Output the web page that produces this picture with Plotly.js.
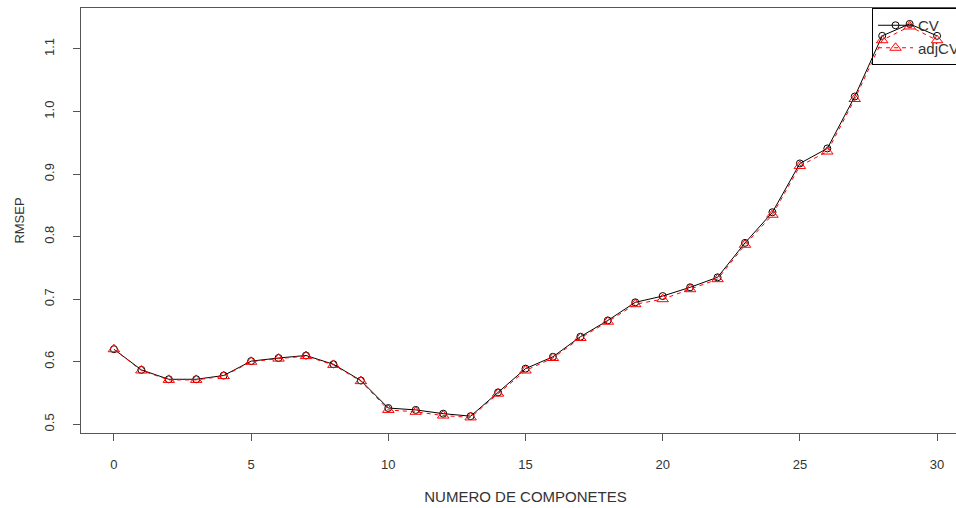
<!DOCTYPE html>
<html>
<head>
<meta charset="utf-8">
<script src="https://cdn.plot.ly/plotly-3.0.1.min.js"></script>
<style>
html,body{margin:0;padding:0;overflow:hidden;background:#fff;width:956px;height:508px;}
#chart{width:980px;height:508px;}
</style>
</head>
<body>
<div id="chart"></div>
<script>
var components = [0,1,2,3,4,5,6,7,8,9,10,11,12,13,14,15,16,17,18,19,20,21,22,23,24,25,26,27,28,29,30];
var cvValues = [0.620,0.587,0.572,0.572,0.578,0.601,0.606,0.610,0.596,0.570,0.526,0.523,0.517,0.513,0.551,0.589,0.608,0.640,0.666,0.695,0.705,0.719,0.735,0.790,0.839,0.917,0.941,1.024,1.121,1.140,1.121];
var adjCvValues = [0.620,0.586,0.571,0.571,0.577,0.600,0.605,0.609,0.595,0.569,0.523,0.520,0.514,0.511,0.549,0.586,0.606,0.638,0.664,0.692,0.700,0.716,0.732,0.787,0.835,0.913,0.936,1.020,1.114,1.136,1.114];
var xTicks = [0,5,10,15,20,25,30];
var yTicks = [0.5,0.6,0.7,0.8,0.9,1.0,1.1];
var yTickLabels = ['0.5','0.6','0.7','0.8','0.9','1.0','1.1'];

var font = 'Liberation Sans, Arial, sans-serif';

var traces = [
  {
    x: components, y: cvValues, name: 'CV', type: 'scatter', mode: 'lines+markers',
    line: {color: '#000000', width: 1},
    marker: {symbol: 'circle-open', size: 7, color: '#000000', line: {width: 1}}
  },
  {
    x: components, y: adjCvValues, name: 'adjCV', type: 'scatter', mode: 'lines+markers',
    line: {color: '#ff0000', width: 1, dash: '4px,4px'},
    marker: {symbol: 'triangle-up-open', size: 10, color: '#ff0000', line: {width: 1}}
  }
];

var axisCommon = {
  showline: true, mirror: true, linecolor: '#555555', linewidth: 1,
  showgrid: false, zeroline: false,
  ticks: 'outside', ticklen: 7, tickwidth: 1, tickcolor: '#555555',
  tickfont: {family: font, size: 13, color: '#333333'}
};

var layout = {
  width: 980, height: 508,
  margin: {l: 81, r: 10, t: 8, b: 75, pad: 0},
  paper_bgcolor: '#ffffff', plot_bgcolor: '#ffffff',
  font: {family: font, color: '#333333'},
  xaxis: Object.assign({}, axisCommon, {
    range: [-1.2, 31.2], tickvals: xTicks, ticklabelstandoff: 12,
    title: {text: 'NUMERO DE COMPONETES', font: {family: font, size: 15, color: '#333333'}, standoff: 20}
  }),
  yaxis: Object.assign({}, axisCommon, {
    range: [0.4861, 1.1655], tickvals: yTicks, ticktext: yTickLabels, tickangle: -90,
    ticklabelstandoff: 14,
    title: {text: 'RMSEP', font: {family: font, size: 13, color: '#333333'}, standoff: 14}
  }),
  showlegend: true,
  legend: {
    x: 0.8898, y: 1, xanchor: 'left', yanchor: 'top',
    bgcolor: 'rgba(0,0,0,0)', bordercolor: '#000000', borderwidth: 1,
    font: {family: font, size: 15, color: '#333333'},
    itemwidth: 35,
    tracegroupgap: 0
  }
};

Plotly.newPlot('chart', traces, layout, {displayModeBar: false, staticPlot: true});
</script>
</body>
</html>
